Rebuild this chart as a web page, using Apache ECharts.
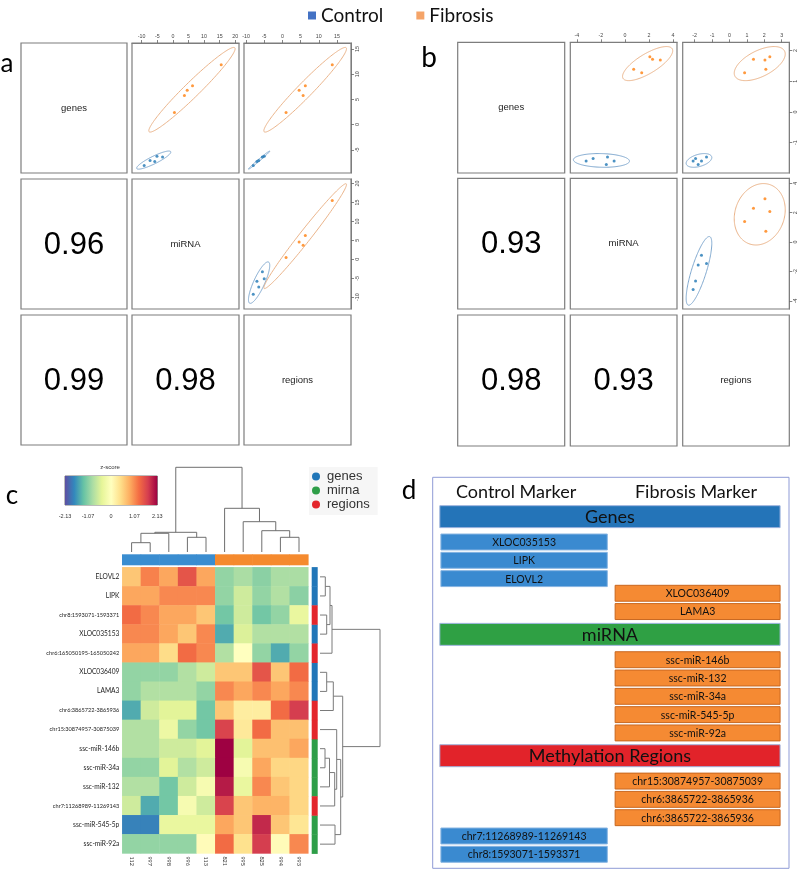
<!DOCTYPE html>
<html><head><meta charset="utf-8">
<script src="https://cdn.jsdelivr.net/npm/echarts@6/dist/echarts.min.js"></script>
<style>html,body{margin:0;padding:0;background:#fff}#main{width:800px;height:869px}</style>
</head><body><div id="main"></div>
<script>
// ================= DATA =================
const sampleGroups = ['Control', 'Fibrosis'];
const matrixVars = ['genes', 'miRNA', 'regions'];

// Panel a: sample scores per data layer
const aControlGenes    = [-6.4, -6.3, -7.3, -7.1, -8.1];
const aControlMiRNA    = [-3.3, -5.1, -5.8, -7.3, -9.2];
const aControlRegions  = [-5.5, -5.0, -7.0, -6.5, -8.0];
const aFibrosisGenes   = [11.9, 7.7, 6.8, 5.8, 2.4];
const aFibrosisMiRNA   = [15.5, 6.3, 4.6, 3.7, 0.5];
const aFibrosisRegions = [13.7, 6.3, 4.6, 5.7, 1.0];
const aCorr = [0.96, 0.99, 0.98];          // genes~miRNA, genes~regions, miRNA~regions

// Panel b
const bControlGenes    = [-1.60, -1.71, -1.47, -1.52, -1.60];
const bControlMiRNA    = [-0.90, -1.55, -1.45, -2.65, -3.23];
const bControlRegions  = [-1.61, -1.80, -1.32, -1.95, -2.09];
const bFibrosisGenes   = [1.69, 1.72, 1.80, 1.28, 1.39];
const bFibrosisMiRNA   = [2.95, 2.30, 2.08, 1.40, 0.73];
const bFibrosisRegions = [2.04, 1.38, 2.32, 0.87, 2.09];
const bCorr = [0.93, 0.98, 0.93];

// axis ranges and tick labels
const aRanges = {genes: [-9.6, 16.2], miRNA: [-13.1, 21.2], regions: [-10.55, 18.85]};
const aTicks  = {genes: [-5, 0, 5, 10, 15], miRNA: [-10, -5, 0, 5, 10, 15, 20], regions: [-10, -5, 0, 5, 10, 15]};
const bRanges = {genes: [-1.99, 2.27], miRNA: [-4.55, 4.34], regions: [-2.69, 3.44]};
const bTicks  = {genes: [-1, 0, 1, 2], miRNA: [-4, -2, 0, 2, 4], regions: [-2, -1, 0, 1, 2, 3]};

// Panel c: heatmap
const sampleLabels = ['112', '997', '998', '996', '113', '821', '995', '825', '994', '993'];
const sampleGroupOf = ['Control','Control','Control','Control','Control','Fibrosis','Fibrosis','Fibrosis','Fibrosis','Fibrosis'];
const featureLabels = ['ELOVL2', 'LIPK', 'chr8:1593071-1593371', 'XLOC035153', 'chr6:165050195-165050242',
  'XLOC036409', 'LAMA3', 'chr6:3865722-3865936', 'chr15:30874957-30875039', 'ssc-miR-146b',
  'ssc-miR-34a', 'ssc-miR-132', 'chr7:11268989-11269143', 'ssc-miR-545-5p', 'ssc-miR-92a'];
const featureTypes = ['genes','genes','regions','genes','regions','genes','genes','regions','regions',
  'mirna','mirna','mirna','regions','mirna','mirna'];
const zScores = [
  [0.65, 1.15, 0.9, 1.5, 0.9, -1.0, -0.85, -1.05, -0.85, -0.85],
  [0.9, 0.9, 1.1, 1.1, 1.1, -1.0, -0.6, -1.0, -0.8, -1.05],
  [1.3, 1.1, 0.9, 0.9, 0.65, -1.2, -0.6, -1.2, -1.0, -0.35],
  [1.1, 1.1, 0.9, 0.65, 1.1, -1.45, -0.5, -0.8, -0.8, -0.8],
  [0.9, 0.9, 0.45, 1.3, 1.1, -0.8, 0.0, -1.0, -1.45, -1.0],
  [-1.0, -1.0, -1.0, -0.8, -0.6, 0.65, 0.65, 1.5, 0.65, 1.3],
  [-1.0, -0.8, -0.8, -0.8, -1.0, 1.1, 0.9, 1.1, 0.9, 1.1],
  [-1.45, -0.6, -0.45, -0.45, -1.2, 0.65, 0.25, 0.25, 1.3, 1.7],
  [-0.8, -0.8, -0.3, -1.0, -1.2, 1.65, 0.3, 1.3, 0.7, 0.7],
  [-0.8, -0.8, -0.6, -0.6, -0.45, 2.13, -0.45, 0.7, 0.7, 0.9],
  [-1.0, -1.0, -0.45, -0.8, -0.6, 2.13, -0.15, 0.9, 0.5, 0.5],
  [-0.8, -0.8, -1.2, -0.6, -0.15, 1.95, -0.35, 1.1, 0.65, 0.5],
  [-0.6, -1.45, -1.2, -0.15, -0.6, 1.65, 0.65, 0.8, 0.8, 0.5],
  [-1.75, -1.75, -0.35, -0.35, -0.35, 0.9, 0.65, 1.85, 0.65, 0.35],
  [-1.0, -1.0, -1.0, -1.0, 0.05, 1.3, 0.4, 1.7, 0.05, 1.1]
];
const zRange = [-2.13, 2.13];
const zTickValues = [-2.13, -1.07, 0, 1.07, 2.13];
// hclust-style merges: negative = leaf (1-based), positive = earlier merge; third = height
const colMerges = [[-1,-2,9.3],[-4,-5,14.7],[1,-3,18.7],[3,2,19.7],[-9,-10,14.7],[-8,5,21.3],[-7,6,30.3],[-6,7,43.7],[4,8,84.7]];
const rowMerges = [[-1,-2,5.3],[-3,-4,6.7],[1,2,10],[3,-5,12],[-6,-7,6.7],[5,-8,13.3],[-10,-11,5],[7,-12,9.5],
  [8,-13,14.7],[-9,9,16.7],[-14,-15,15],[10,11,20.7],[6,12,22.7],[4,13,60]];

// Panel d: marker table
const markerColumnTitles = ['Control Marker', 'Fibrosis Marker'];
const markerSections = ['Genes', 'miRNA', 'Methylation Regions'];
const markerEntries = [
  [0,'control','XLOC035153'],[0,'control','LIPK'],[0,'control','ELOVL2'],
  [0,'fibrosis','XLOC036409'],[0,'fibrosis','LAMA3'],
  [1,'fibrosis','ssc-miR-146b'],[1,'fibrosis','ssc-miR-132'],[1,'fibrosis','ssc-miR-34a'],
  [1,'fibrosis','ssc-miR-545-5p'],[1,'fibrosis','ssc-miR-92a'],
  [2,'fibrosis','chr15:30874957-30875039'],[2,'fibrosis','chr6:3865722-3865936'],[2,'fibrosis','chr6:3865722-3865936'],
  [2,'control','chr7:11268989-11269143'],[2,'control','chr8:1593071-1593371']
];

// ================= STYLE =================
const groupPointColor = {Control: '#1f77b4', Fibrosis: '#ff7f0e'};
const groupEllipseColor = {Control: '#7fa8cf', Fibrosis: '#ebb48a'};
const legendSquareColor = {Control: '#4472c4', Fibrosis: '#f5a468'};
const colAnnotColor = {Control: '#3a8dd0', Fibrosis: '#f58a2e'};
const typeColor = {genes: '#2176b8', mirna: '#2e9e48', regions: '#e3262c'};
const spectral = ['#5e4fa2','#3288bd','#66c2a5','#abdda4','#e6f598','#ffffbf','#fee08b','#fdae61','#f46d43','#d53e4f','#9e0142'];
const sectionColor = ['#2474b8', '#2fa044', '#e2232a'];
const RFONT = '"Liberation Sans", Arial, sans-serif';
const CFONT = 'Lato, "Open Sans", sans-serif';
const ELLIPSE_K = 2.4477; // sqrt(qchisq(0.95, 2))

// ================= BUILD =================
const grids = [], xAxes = [], yAxes = [], series = [], graphics = [];
function addGrid(rect, xOpt, yOpt, extra) {
  const i = grids.length;
  grids.push(Object.assign({left: rect[0], top: rect[1], width: rect[2], height: rect[3]}, extra || {}));
  xAxes.push(Object.assign({gridIndex: i}, xOpt));
  yAxes.push(Object.assign({gridIndex: i}, yOpt));
  return i;
}
const hiddenValue = (min, max, extra) => Object.assign({type: 'value', show: false, min, max, splitLine: {show: false}}, extra || {});
function text(x, y, str, font, fill, align) {
  graphics.push({type: 'text', x, y, silent: true, style: {text: str, font, fill: fill || '#111',
    textAlign: align || 'center', textVerticalAlign: 'middle'}});
}
function mean(a) { return a.reduce((s, v) => s + v, 0) / a.length; }
function sd(a) { const m = mean(a); return Math.sqrt(a.reduce((s, v) => s + (v - m) * (v - m), 0) / (a.length - 1)); }
function cor(a, b) { const ma = mean(a), mb = mean(b); let s = 0; a.forEach((v, i) => s += (v - ma) * (b[i] - mb)); return s / ((a.length - 1) * sd(a) * sd(b)); }
function ellipseParams(xs, ys) { return [mean(xs), mean(ys), sd(xs), sd(ys), cor(xs, ys)]; }
function ellipseRenderer(color) {
  return function (params, api) {
    const cx = api.value(0), cy = api.value(1), sx = api.value(2), sy = api.value(3), r = api.value(4);
    const q = Math.sqrt(Math.max(0, 1 - r * r)), pts = [];
    for (let i = 0; i <= 160; i++) {
      const t = 2 * Math.PI * i / 160;
      pts.push(api.coord([cx + ELLIPSE_K * sx * Math.cos(t), cy + ELLIPSE_K * sy * (r * Math.cos(t) + q * Math.sin(t))]));
    }
    return {type: 'polyline', shape: {points: pts}, style: {stroke: color, fill: null, lineWidth: 1}};
  };
}
function matrixAxis(range, ticks, pos, show) {
  return {type: 'value', min: range[0], max: range[1], position: pos, show,
    axisLine: {show: true, onZero: false, lineStyle: {color: '#7d7d7d', width: 1}},
    axisTick: {show: true, inside: false, length: 3, customValues: ticks, lineStyle: {color: '#666', width: 0.8}},
    axisLabel: {show: true, customValues: ticks, fontSize: 5.3, fontFamily: RFONT, color: '#444', margin: 4, rotate: pos === 'right' ? 90 : 0},
    splitLine: {show: false}};
}
function buildMatrix(m) {
  for (let r = 0; r < 3; r++) for (let c = 0; c < 3; c++) {
    const [x0, x1] = m.cols[c], [y0, y1] = m.rows[r];
    const cellGrid = {show: true, borderColor: '#7d7d7d', borderWidth: 1.2};
    if (c > r) {
      const xv = matrixVars[c], yv = matrixVars[r];
      const gi = addGrid([x0, y0, x1 - x0, y1 - y0],
        matrixAxis(m.ranges[xv], m.ticks[xv], 'top', r === 0),
        matrixAxis(m.ranges[yv], m.ticks[yv], 'right', c === 2), cellGrid);
      sampleGroups.forEach(g => {
        const xs = m.values[g][xv], ys = m.values[g][yv];
        series.push({type: 'custom', name: g, xAxisIndex: gi, yAxisIndex: gi, clip: true, silent: true, z: 3,
          itemStyle: {color: groupPointColor[g]},
          data: [ellipseParams(xs, ys)], renderItem: ellipseRenderer(groupEllipseColor[g])});
        series.push({type: 'scatter', name: g, xAxisIndex: gi, yAxisIndex: gi, silent: true, z: 4,
          data: xs.map((x, i) => [x, ys[i]]), symbolSize: 3, itemStyle: {color: groupPointColor[g]}});
      });
    } else {
      addGrid([x0, y0, x1 - x0, y1 - y0], hiddenValue(0, 1), hiddenValue(0, 1), cellGrid);
      if (r === c) {
        text((x0 + x1) / 2, (y0 + y1) / 2, matrixVars[r], '9.5px ' + RFONT, '#222');
      } else {
        const k = (r === 1 && c === 0) ? 0 : (r === 2 && c === 0 ? 1 : 2);
        text((x0 + x1) / 2, (y0 + y1) / 2 + 1, m.corr[k].toFixed(2), '31px ' + RFONT, '#000');
      }
    }
  }
}

buildMatrix({
  cols: [[21, 127], [132, 239], [244, 351]], rows: [[43, 173], [179, 309], [315, 445]],
  values: {Control: {genes: aControlGenes, miRNA: aControlMiRNA, regions: aControlRegions},
           Fibrosis: {genes: aFibrosisGenes, miRNA: aFibrosisMiRNA, regions: aFibrosisRegions}},
  ranges: aRanges, ticks: aTicks, corr: aCorr
});
buildMatrix({
  cols: [[457.7, 564.7], [570.3, 677], [682.7, 789.3]], rows: [[42.3, 173], [178.3, 309], [315, 446]],
  values: {Control: {genes: bControlGenes, miRNA: bControlMiRNA, regions: bControlRegions},
           Fibrosis: {genes: bFibrosisGenes, miRNA: bFibrosisMiRNA, regions: bFibrosisRegions}},
  ranges: bRanges, ticks: bTicks, corr: bCorr
});

// ---- Panel c ----
const HM = {left: 122.3, top: 567.3, width: 186, height: 286.4};
const hmIndex = addGrid([HM.left, HM.top, HM.width, HM.height],
  {type: 'category', data: sampleLabels, position: 'bottom', axisLine: {show: false}, axisTick: {show: false},
   axisLabel: {interval: 0, rotate: -90, fontSize: 5.5, fontFamily: CFONT, color: '#333', margin: 3}},
  {type: 'category', data: featureLabels, inverse: true, axisLine: {show: false}, axisTick: {show: false},
   axisLabel: {interval: 0, fontSize: 6.6, fontFamily: CFONT, color: '#222', margin: 3,
     formatter: v => v.indexOf('chr') === 0 ? '{s|' + v + '}' : v,
     rich: {s: {fontSize: 5.6, fontFamily: CFONT, color: '#222'}}}});
const heatData = [];
zScores.forEach((row, ri) => row.forEach((v, ci) => heatData.push([ci, ri, v])));
const heatSeriesIndex = series.length;
series.push({type: 'heatmap', xAxisIndex: hmIndex, yAxisIndex: hmIndex, data: heatData, silent: true,
  itemStyle: {borderWidth: 0}, emphasis: {disabled: true}, progressive: 0});

// column annotation
const caIndex = addGrid([HM.left, 554.3, HM.width, 11],
  {type: 'category', data: sampleLabels, show: false}, hiddenValue(0, 1));
sampleGroups.forEach(g => {
  series.push({type: 'custom', name: g, xAxisIndex: caIndex, yAxisIndex: caIndex, silent: true,
    itemStyle: {color: colAnnotColor[g]},
    data: sampleGroupOf.map((sg, i) => sg === g ? [i, 1] : null).filter(d => d),
    renderItem: (params, api) => {
      const p = api.coord([api.value(0), 1]), s = api.size([1, 1]);
      return {type: 'rect', shape: {x: p[0] - s[0] / 2 - 0.3, y: p[1], width: s[0] + 0.6, height: s[1]},
        style: {fill: colAnnotColor[g]}};
    }});
});
// row annotation
const raIndex = addGrid([311.7, HM.top, 6, HM.height], hiddenValue(0, 1),
  {type: 'category', data: featureLabels, inverse: true, show: false});
['genes', 'mirna', 'regions'].forEach(t => {
  series.push({type: 'custom', name: t, xAxisIndex: raIndex, yAxisIndex: raIndex, silent: true,
    itemStyle: {color: typeColor[t]},
    data: featureTypes.map((ft, i) => ft === t ? [0, i] : null).filter(d => d),
    renderItem: (params, api) => {
      const p = api.coord([0, api.value(1)]), s = api.size([1, 1]);
      return {type: 'rect', shape: {x: p[0], y: p[1] - s[1] / 2 - 0.2, width: s[0], height: s[1] + 0.4},
        style: {fill: typeColor[t]}};
    }});
});
// dendrograms
function dendroSegments(merges) {
  const pos = [], ht = [], segs = [];
  merges.forEach(([a, b, h]) => {
    const pa = a < 0 ? -a - 0.5 : pos[a - 1], ha = a < 0 ? 0 : ht[a - 1];
    const pb = b < 0 ? -b - 0.5 : pos[b - 1], hb = b < 0 ? 0 : ht[b - 1];
    pos.push((pa + pb) / 2); ht.push(h); segs.push([pa, pb, ha, hb, h]);
  });
  return segs;
}
function dendroRenderer(vertical, color) {
  return (params, api) => {
    const pa = api.value(0), pb = api.value(1), ha = api.value(2), hb = api.value(3), h = api.value(4);
    const P = (p, hh) => vertical ? api.coord([p, hh]) : api.coord([hh, p]);
    return {type: 'polyline', shape: {points: [P(pa, ha), P(pa, h), P(pb, h), P(pb, hb)]},
      style: {stroke: color, fill: null, lineWidth: 1}};
  };
}
const cdIndex = addGrid([HM.left, 467.3, HM.width, 84.7], hiddenValue(0, 10), hiddenValue(0, 84.7));
series.push({type: 'custom', xAxisIndex: cdIndex, yAxisIndex: cdIndex, silent: true,
  data: dendroSegments(colMerges), renderItem: dendroRenderer(true, '#6e6e6e')});
const rdIndex = addGrid([320, HM.top, 60, HM.height], hiddenValue(0, 60), hiddenValue(0, 15, {inverse: true}));
series.push({type: 'custom', xAxisIndex: rdIndex, yAxisIndex: rdIndex, silent: true,
  data: dendroSegments(rowMerges), renderItem: dendroRenderer(false, '#7a7a7a')});
// colour bar
const cbIndex = addGrid([65, 476, 92.3, 29],
  {type: 'value', min: zRange[0], max: zRange[1], position: 'bottom', axisLine: {show: false},
   axisTick: {show: false}, splitLine: {show: false},
   axisLabel: {customValues: zTickValues, fontSize: 5.5, fontFamily: RFONT, color: '#333', margin: 8,
     formatter: v => v === 0 ? '0' : v.toFixed(2)}},
  hiddenValue(0, 1), {show: true, borderColor: '#555', borderWidth: 0.8});
series.push({type: 'custom', xAxisIndex: cbIndex, yAxisIndex: cbIndex, silent: true, data: [[zRange[0], 0]],
  renderItem: (params, api) => {
    const p0 = api.coord([zRange[0], 1]), p1 = api.coord([zRange[1], 0]);
    return {type: 'rect', shape: {x: p0[0], y: p0[1], width: p1[0] - p0[0], height: p1[1] - p0[1]},
      style: {fill: new echarts.graphic.LinearGradient(0, 0, 1, 0,
        spectral.map((c, i) => ({offset: i / (spectral.length - 1), color: c})))}};
  }});
text(110, 467.5, 'z-score', '6px ' + RFONT, '#333');

// ---- Panel d ----
const D = {left: 432.7, top: 477.3, width: 356.3, height: 391};
const dIndex = addGrid([D.left, D.top, D.width, D.height], hiddenValue(0, 1),
  hiddenValue(-1.55, 19.81, {inverse: true}), {show: true, borderColor: '#8f9bd6', borderWidth: 1});
const dSpan = {title0: [0.034, 0.434], title1: [0.539, 0.939], header: [0.02, 0.975], control: [0.023, 0.49], fibrosis: [0.512, 0.975]};
const dItems = [], dLabels = [];
markerColumnTitles.forEach((t, i) => { const s = dSpan['title' + i]; dItems.push([s[0], s[1], -1.4, -0.14, 0, 0]); dLabels.push(t); });
let yCur = 0, lastTop = 0;
markerSections.forEach((sec, si) => {
  if (si > 0) yCur = lastTop + 1.08;
  dItems.push([dSpan.header[0], dSpan.header[1], yCur, yCur + 1.2, 1, si]); dLabels.push(sec);
  const entries = markerEntries.filter(e => e[0] === si);
  let prevSide = null;
  entries.forEach((e, k) => {
    if (k === 0) yCur += 1.55;
    else yCur += (prevSide === 'control' && e[1] === 'fibrosis') ? 0.8 : 1.0;
    const s = dSpan[e[1]];
    dItems.push([s[0], s[1], yCur, yCur + 0.87, e[1] === 'control' ? 2 : 3, si]); dLabels.push(e[2]);
    lastTop = yCur; prevSide = e[1];
  });
});
series.push({type: 'custom', xAxisIndex: dIndex, yAxisIndex: dIndex, silent: true, data: dItems,
  renderItem: (params, api) => {
    const kind = api.value(4), si = api.value(5), label = dLabels[params.dataIndex];
    const p0 = api.coord([api.value(0), api.value(2)]), p1 = api.coord([api.value(1), api.value(3)]);
    const cx = (p0[0] + p1[0]) / 2, cy = (p0[1] + p1[1]) / 2;
    const big = '18px ' + CFONT, small = '10.5px ' + CFONT;
    const txt = {type: 'text', x: cx, y: cy + 0.5, style: {text: label, font: kind <= 1 ? big : small, fill: '#111',
      textAlign: 'center', textVerticalAlign: 'middle'}};
    if (kind === 0) return txt;
    const fill = kind === 1 ? sectionColor[si] : (kind === 2 ? '#3a8ad0' : '#f58a33');
    const stroke = kind === 1 ? '#9db3dd' : (kind === 2 ? '#86b4e2' : '#c8671f');
    return {type: 'group', children: [
      {type: 'rect', shape: {x: p0[0], y: p0[1], width: p1[0] - p0[0], height: p1[1] - p0[1]},
       style: {fill, stroke, lineWidth: 1}}, txt]};
  }});

// panel letters
text(7, 64, 'a', '26px ' + CFONT, '#000');
text(429, 58, 'b', '28px ' + CFONT, '#000');
text(12, 496, 'c', '26px ' + CFONT, '#000');
text(409, 491, 'd', '26px ' + CFONT, '#000');

const option = {
  animation: false,
  backgroundColor: '#fff',
  grid: grids, xAxis: xAxes, yAxis: yAxes, series,
  graphic: {elements: graphics},
  visualMap: [{type: 'continuous', show: false, min: zRange[0], max: zRange[1], seriesIndex: heatSeriesIndex,
    inRange: {color: spectral}}],
  legend: [
    {left: 303, top: 1, icon: 'rect', itemWidth: 8, itemHeight: 8, itemGap: 33, selectedMode: false,
     textStyle: {fontFamily: CFONT, fontSize: 19, color: '#111'},
     data: sampleGroups.map(g => ({name: g, itemStyle: {color: legendSquareColor[g]}}))},
    {orient: 'vertical', left: 309, top: 467, icon: 'circle', itemWidth: 8, itemHeight: 8, itemGap: 1,
     padding: [3, 8, 4, 3], backgroundColor: '#f6f6f6', selectedMode: false,
     textStyle: {fontFamily: RFONT, fontSize: 13, color: '#333', padding: [0, 0, 0, 2]},
     data: ['genes', 'mirna', 'regions']}
  ]
};
const chart = echarts.init(document.getElementById('main'), null, {renderer: 'canvas'});
chart.setOption(option);
</script></body></html>
